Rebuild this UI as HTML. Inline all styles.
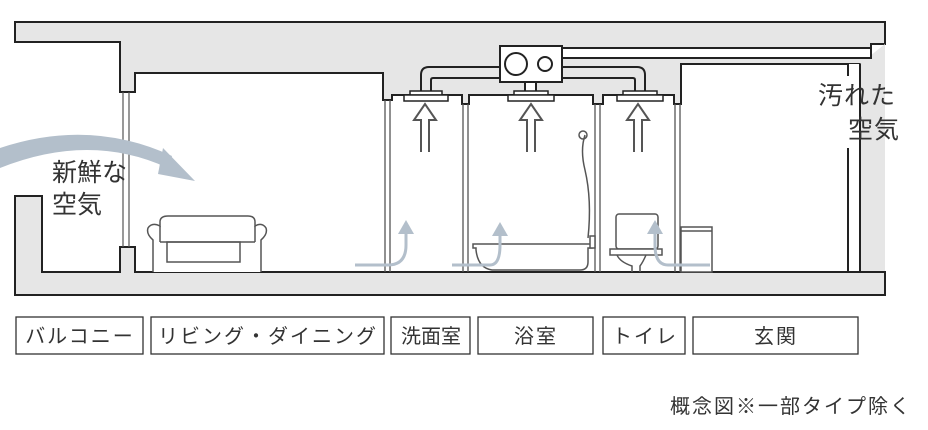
<!DOCTYPE html>
<html><head><meta charset="utf-8"><style>
body{margin:0;background:#fff;width:928px;height:430px;overflow:hidden}
svg{display:block}
text{font-family:"Liberation Sans","Noto Sans CJK JP",sans-serif;fill:#333}
</style></head><body>
<svg width="928" height="430" viewBox="0 0 928 430">
<!-- top slab -->
<path d="M15,22 H885 V44 H871 V64 H860 V64 H848 V64 H681 V104 H674 V95 H603 V104 H593 V95 H469 V104 H462 V95 H392 V100 H383 V73 H135 V92 H120 V42 H15 Z" fill="#e6e6e6" stroke="#222" stroke-width="2"/>
<!-- right wall -->
<path d="M860,64 V272 H885 V44" fill="#e6e6e6" stroke="none"/>
<path d="M860,64 V272" stroke="#222" stroke-width="2"/>
<rect x="849" y="64" width="10" height="210" fill="#fff"/>
<line x1="848" y1="64" x2="848" y2="272" stroke="#222" stroke-width="2"/>
<!-- floor slab -->
<path d="M15,196 H42 V272 H120 V247 H135 V272 H848 H860 V272 H885 V295 H15 Z" fill="#e6e6e6" stroke="#222" stroke-width="2"/>
<line x1="849" y1="272" x2="859" y2="272" stroke="#222" stroke-width="2"/>
<!-- left window -->
<line x1="123" y1="92" x2="123" y2="247" stroke="#555" stroke-width="1.2"/>
<line x1="129" y1="92" x2="129" y2="247" stroke="#555" stroke-width="1.2"/>
<!-- interior walls -->
<g stroke="#555" stroke-width="1.3">
<line x1="385" y1="100" x2="385" y2="272"/><line x1="390" y1="100" x2="390" y2="272"/>
<line x1="463" y1="104" x2="463" y2="272"/><line x1="468" y1="104" x2="468" y2="272"/>
<line x1="595" y1="104" x2="595" y2="272"/><line x1="600" y1="104" x2="600" y2="272"/>
<line x1="675" y1="104" x2="675" y2="272"/><line x1="680" y1="104" x2="680" y2="272"/>
</g>
<!-- exhaust duct -->
<rect x="560" y="48" width="311" height="10" fill="#fff" stroke="#222" stroke-width="2"/>
<!-- ducts -->
<path d="M421,92 V75 Q421,67 429,67 H500" fill="none" stroke="#222" stroke-width="2"/>
<path d="M431,92 V80 Q431,78 433,78 H500" fill="none" stroke="#222" stroke-width="2"/>
<path d="M645,92 V75 Q645,67 637,67 H562" fill="none" stroke="#222" stroke-width="2"/>
<path d="M635,92 V80 Q635,78 633,78 H562" fill="none" stroke="#222" stroke-width="2"/>
<rect x="525" y="82" width="11" height="10" fill="#fff" stroke="#222" stroke-width="2"/>
<!-- fan box -->
<rect x="500" y="46" width="62" height="36" fill="#fff" stroke="#222" stroke-width="2"/>
<circle cx="516" cy="64" r="11" fill="#fff" stroke="#222" stroke-width="2"/>
<circle cx="545" cy="64" r="7" fill="#fff" stroke="#222" stroke-width="2"/>
<!-- vents -->
<g fill="#fff" stroke="#222" stroke-width="1.5">
<rect x="410" y="91" width="32" height="4"/><rect x="404" y="95" width="44" height="6"/>
<rect x="514" y="91" width="34" height="4"/><rect x="508" y="95" width="46" height="6"/>
<rect x="623" y="91" width="34" height="4"/><rect x="617" y="95" width="46" height="6"/>
</g>
<!-- up arrows -->
<g fill="none" stroke="#555" stroke-width="2">
<path d="M421,152 V120 H414 L425,104 L436,120 H429 V152"/>
<path d="M527,152 V120 H520 L531,104 L542,120 H535 V152"/>
<path d="M634,152 V120 H627 L638,104 L649,120 H642 V152"/>
</g>
<!-- sofa -->
<g fill="#fff" stroke="#555" stroke-width="1.5">
<path d="M153,272 V240 Q146,234 148,228 Q152,222 160,226 V222 Q160,216 168,216 H248 Q255,216 255,222 V226 Q262,222 266,228 Q268,234 261,240 V272"/>
<rect x="167" y="242" width="73" height="20"/>
<line x1="160" y1="226" x2="160" y2="242"/><line x1="255" y1="226" x2="255" y2="242"/>
<line x1="160" y1="242" x2="255" y2="242"/>
</g>
<!-- bathtub -->
<g fill="#fff" stroke="#555" stroke-width="1.5">
<path d="M473,244 H592 V248 H588 V262 Q588,270 580,270 H492 Q478,268 476,250 V248 H473 Z"/>
<path d="M588,238 Q592,200 585,170 Q580,150 585,135" fill="none"/>
<ellipse cx="583" cy="135" rx="4" ry="4" fill="none"/>
<rect x="590" y="236" width="5" height="12"/>
</g>
<!-- toilet -->
<g fill="#fff" stroke="#555" stroke-width="1.5">
<rect x="616" y="214" width="42" height="35" rx="3"/>
<rect x="610" y="249" width="52" height="6"/>
<path d="M617,255 Q620,262 632,266 V272 M646,255 Q643,262 640,266 V272"/>
<rect x="681" y="227" width="31" height="45"/>
<line x1="681" y1="231" x2="712" y2="231"/>
</g>
<!-- flow arrows (blue-gray) -->
<g fill="none" stroke="#b3bfcb" stroke-width="3">
<path d="M355,265 H388 Q406,265 406,245 V232"/>
<path d="M452,265 H490 Q500,265 500,245 V234"/>
<path d="M710,265 H668 Q655,265 655,245 V232"/>
</g>
<g fill="#b3bfcb">
<polygon points="398,234 406,220 414,234"/>
<polygon points="492,236 500,222 508,236"/>
<polygon points="647,234 655,220 663,234"/>
</g>
<!-- fresh air big arrow -->
<path d="M0,148 Q90,118 172,156 L168,168 Q90,132 0,168 Z" fill="#b3bfcb"/>
<polygon points="163,148 195,181 158,174" fill="#b3bfcb"/>
<!-- labels -->
<text x="52" y="181" font-size="25">新鮮な</text>
<text x="52" y="213" font-size="25">空気</text>
<rect x="818" y="76" width="40" height="72" fill="#fff"/>
<text x="818" y="104" font-size="25" letter-spacing="1">汚れた</text>
<text x="848" y="138" font-size="25" letter-spacing="1">空気</text>
<!-- bottom boxes -->
<g fill="#fff" stroke="#333" stroke-width="1.3">
<rect x="16" y="317" width="127" height="37"/>
<rect x="151" y="317" width="233" height="37"/>
<rect x="391" y="317" width="79" height="37"/>
<rect x="478" y="317" width="115" height="37"/>
<rect x="603" y="317" width="82" height="37"/>
<rect x="693" y="317" width="165" height="37"/>
</g>
<g font-size="20" text-anchor="middle" letter-spacing="2">
<text x="80" y="343">バルコニー</text>
<text x="268" y="343">リビング・ダイニング</text>
<text x="431" y="343" letter-spacing="0">洗面室</text>
<text x="536" y="343">浴室</text>
<text x="645" y="343">トイレ</text>
<text x="776" y="343">玄関</text>
</g>
<text x="912" y="413" font-size="20" text-anchor="end" letter-spacing="2">概念図※一部タイプ除く</text>
</svg>
</body></html>
